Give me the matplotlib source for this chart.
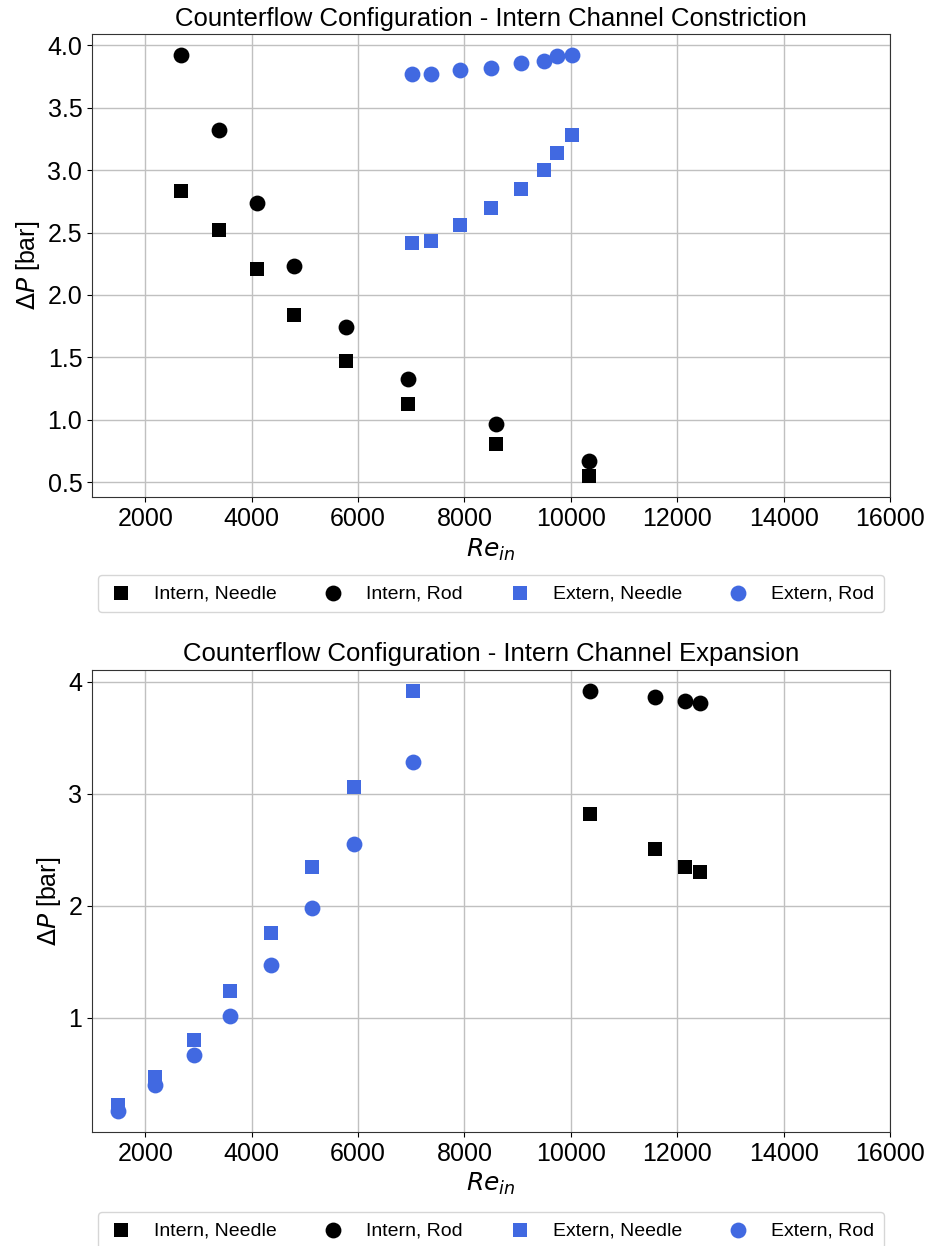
import matplotlib.pyplot as plt

plt.rcParams['font.family'] = ['Liberation Sans', 'DejaVu Sans']

# constriction case (top)
re_int_con = [2680, 3390, 4100, 4790, 5770, 6930, 8600, 10350]
dp_int_needle_con = [2.83, 2.52, 2.21, 1.84, 1.47, 1.13, 0.81, 0.55]
dp_int_rod_con = [3.92, 3.32, 2.74, 2.23, 1.74, 1.33, 0.97, 0.67]

re_ext_con = [7010, 7380, 7920, 8500, 9060, 9500, 9745, 10015]
dp_ext_needle_con = [2.42, 2.43, 2.56, 2.70, 2.85, 3.00, 3.14, 3.28]
dp_ext_rod_con = [3.77, 3.77, 3.80, 3.82, 3.86, 3.87, 3.91, 3.92]

# expansion case (bottom)
re_int_exp = [10360, 11580, 12150, 12420]
dp_int_needle_exp = [2.82, 2.51, 2.35, 2.30]
dp_int_rod_exp = [3.92, 3.86, 3.83, 3.81]

re_ext_exp = [1480, 2180, 2920, 3600, 4360, 5140, 5920, 7030]
dp_ext_needle_exp = [0.22, 0.47, 0.80, 1.24, 1.76, 2.35, 3.06, 3.92]
dp_ext_rod_exp = [0.17, 0.40, 0.67, 1.02, 1.47, 1.98, 2.55, 3.28]

labels = ["Intern, Needle", "Intern, Rod", "Extern, Needle", "Extern, Rod"]
blue = "royalblue"

fig = plt.figure(figsize=(9.3, 12.46), dpi=100)
ax1 = fig.add_axes([0.099, 0.601, 0.858, 0.3716])
ax2 = fig.add_axes([0.099, 0.0915, 0.858, 0.371])


def draw(ax, re_i, dn_i, dr_i, re_e, dn_e, dr_e, title, leg_y):
    ax.scatter(re_i, dn_i, marker='s', s=110, color='black', label=labels[0], zorder=3, linewidths=0)
    ax.scatter(re_i, dr_i, marker='o', s=130, color='black', label=labels[1], zorder=3, linewidths=0)
    ax.scatter(re_e, dn_e, marker='s', s=110, color=blue, label=labels[2], zorder=3, linewidths=0)
    ax.scatter(re_e, dr_e, marker='o', s=130, color=blue, label=labels[3], zorder=3, linewidths=0)
    ax.set_xlim(1000, 16000)
    ax.set_xticks(range(2000, 16001, 2000))
    ax.grid(True, color='#c0c0c0', linewidth=1)
    ax.set_axisbelow(True)
    ax.tick_params(labelsize=18)
    ax.set_xlabel(r'$Re_{in}$', fontsize=18)
    ax.set_ylabel(r'$\Delta P$ [bar]', fontsize=18)
    ax.set_title(title, fontsize=18.5)
    for sp in ax.spines.values():
        sp.set_color('#333333')
    ax.legend(loc='upper left', bbox_to_anchor=(-0.005, leg_y, 1.01, 0), mode='expand',
              ncol=4, fontsize=14, handlelength=1.4, handletextpad=1.0,
              scatterpoints=1, markerscale=1.0, borderpad=0.5)


draw(ax1, re_int_con, dp_int_needle_con, dp_int_rod_con,
     re_ext_con, dp_ext_needle_con, dp_ext_rod_con,
     "Counterflow Configuration - Intern Channel Constriction", -0.147)
draw(ax2, re_int_exp, dp_int_needle_exp, dp_int_rod_exp,
     re_ext_exp, dp_ext_needle_exp, dp_ext_rod_exp,
     "Counterflow Configuration - Intern Channel Expansion", -0.152)
ax2.set_yticks([1, 2, 3, 4])

fig.savefig("out.png", dpi=100)
